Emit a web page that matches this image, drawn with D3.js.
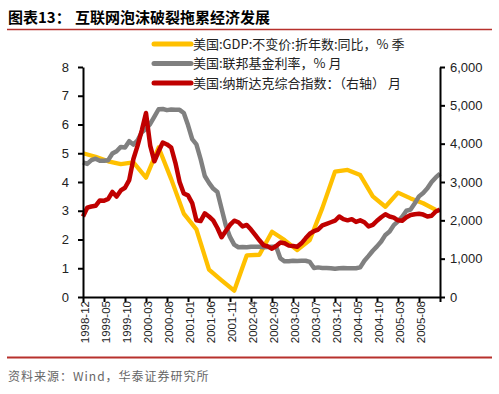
<!DOCTYPE html>
<html><head><meta charset="utf-8">
<script src="https://cdn.jsdelivr.net/npm/d3@7"></script>
<style>
html,body{margin:0;padding:0;background:#fff;}
svg{display:block;font-family:Arial,"Liberation Sans","Noto Sans CJK SC",sans-serif;}
</style></head>
<body><svg id="c" width="499" height="394"></svg>
<script>
// ---- data ----
const startYear = 1998, startMonth = 12, monthCount = 86; // 1998-12 .. 2006-01
const months = [];
for (let i = 0; i < monthCount; i++) {
  const m = (startMonth - 1 + i) % 12 + 1, y = startYear + Math.floor((startMonth - 1 + i) / 12);
  months.push(y + "-" + String(m).padStart(2, "0"));
}
const tickLabels = ["1998-12","1999-05","1999-10","2000-03","2000-08","2001-01","2001-06","2001-11","2002-04","2002-09","2003-02","2003-07","2003-12","2004-05","2004-10","2005-03","2005-08"];

// US real GDP yoy (%) quarterly, placed at month positions
const gdpMonths = ["1998-12","1999-03","1999-06","1999-09","1999-12","2000-03","2000-06","2000-09","2000-12","2001-03","2001-06","2001-09","2001-12","2002-03","2002-06","2002-09","2002-12","2003-03","2003-06","2003-09","2003-12","2004-03","2004-06","2004-09","2004-12","2005-03","2005-06","2005-09","2005-12"];
const gdpValues = [5.0,4.88,4.72,4.62,4.68,4.15,5.2,4.1,2.9,2.35,0.95,0.58,0.22,1.45,1.47,2.27,1.98,1.63,1.98,3.1,4.36,4.42,4.24,3.5,3.14,3.63,3.43,3.26,3.03];

// Fed funds rate (%) monthly
const fedValues = [4.68,4.63,4.76,4.81,4.74,4.74,4.76,4.99,5.07,5.22,5.20,5.42,5.30,
  5.45,5.73,5.85,6.02,6.27,6.53,6.54,6.50,6.52,6.51,6.51,6.40,
  5.98,5.49,5.31,4.80,4.21,3.97,3.77,3.65,3.07,2.49,2.09,1.82,
  1.73,1.74,1.73,1.75,1.75,1.75,1.73,1.74,1.75,1.75,1.34,1.24,
  1.24,1.26,1.25,1.26,1.26,1.22,1.01,1.03,1.01,1.01,1.00,0.98,
  1.00,1.01,1.00,1.00,1.00,1.03,1.26,1.43,1.61,1.76,1.93,2.16,
  2.28,2.50,2.63,2.79,3.00,3.04,3.26,3.50,3.62,3.78,4.00,4.16,4.29];

// NASDAQ composite (right axis) monthly
const nasdaqValues = [2100,2330,2360,2380,2520,2510,2560,2740,2620,2780,2850,3050,3600,
  3950,4350,4800,3950,3540,3800,4030,3980,3900,3500,3000,2700,
  2650,2450,2000,1980,2180,2100,2000,1800,1560,1720,1880,1990,
  1950,1840,1880,1760,1620,1480,1350,1320,1260,1330,1420,1400,
  1340,1330,1310,1400,1530,1650,1720,1760,1870,1910,1950,1990,
  2100,2030,2000,2030,1960,2000,1950,1840,1880,1990,2080,2160,
  2100,2070,2000,1990,2080,2140,2160,2170,2150,2100,2120,2230,2280];

const leftTicks = [0,1,2,3,4,5,6,7,8];
const rightTicks = [0,1000,2000,3000,4000,5000,6000];
const legendLabels = ["美国:GDP:不变价:折年数:同比，% 季","美国:联邦基金利率，% 月","美国:纳斯达克综合指数：（右轴） 月"];
const colors = ["#FFC000","#808080","#C00000"];

// ---- drawing ----
const svg = d3.select("#c");
const L = 83, R = 440, T = 67, B = 297;
const x = d3.scaleLinear().domain([0, monthCount - 1]).range([L, R]);
const yL = d3.scaleLinear().domain([0, 8]).range([B, T]);
const yR = d3.scaleLinear().domain([0, 6000]).range([B, T]);
const idx = m => months.indexOf(m);

// title
svg.append("text").attr("x", 8).attr("y", 23).attr("font-size", 15).attr("font-weight", "bold")
  .attr("fill", "#000").attr("font-family", "'Noto Sans CJK SC',sans-serif").text("图表13：");
svg.append("text").attr("x", 75).attr("y", 23).attr("font-size", 15).attr("font-weight", "bold")
  .attr("fill", "#000").attr("font-family", "'Noto Sans CJK SC',sans-serif").text("互联网泡沫破裂拖累经济发展");
svg.append("line").attr("x1", 7).attr("x2", 492).attr("y1", 29.5).attr("y2", 29.5).attr("stroke", "#B7312C").attr("stroke-width", 1.5);
svg.append("line").attr("x1", 7).attr("x2", 492).attr("y1", 357.5).attr("y2", 357.5).attr("stroke", "#B7312C").attr("stroke-width", 2);
svg.append("text").attr("x", 8).attr("y", 381).attr("font-size", 12).attr("letter-spacing", 1).attr("fill", "#666")
  .attr("font-family", "'Noto Sans CJK SC',sans-serif").text("资料来源：Wind，华泰证券研究所");

// lines
const line = (ys) => d3.line().x(d => x(d[0])).y(d => ys(d[1]));
const gdpPts = gdpMonths.map((m, i) => [idx(m), gdpValues[i]]);
const fedPts = fedValues.map((v, i) => [i, v]);
const nasPts = nasdaqValues.map((v, i) => [i, v]);
svg.append("path").attr("d", line(yL)(gdpPts)).attr("fill", "none").attr("stroke", colors[0]).attr("stroke-width", 4.3).attr("stroke-linejoin", "round");
svg.append("path").attr("d", line(yL)(fedPts)).attr("fill", "none").attr("stroke", colors[1]).attr("stroke-width", 4.5).attr("stroke-linejoin", "round");
svg.append("path").attr("d", line(yR)(nasPts)).attr("fill", "none").attr("stroke", colors[2]).attr("stroke-width", 4.5).attr("stroke-linejoin", "round");

// axes
const axisStyle = g => {
  g.select(".domain").attr("stroke", "#000").attr("stroke-width", 2);
  g.selectAll(".tick line").attr("stroke", "#000").attr("stroke-width", 2);
  g.selectAll("text").attr("fill", "#222").attr("font-family", "Arial,'Liberation Sans',sans-serif");
};
svg.append("g").attr("transform", `translate(${L},0)`)
  .call(d3.axisLeft(yL).tickValues(leftTicks).tickSize(5).tickSizeOuter(0).tickPadding(9))
  .call(axisStyle).selectAll("text").attr("font-size", 13);
svg.append("g").attr("transform", `translate(${R},0)`)
  .call(d3.axisRight(yR).tickValues(rightTicks).tickSize(5).tickSizeOuter(0).tickFormat(d3.format(",")).tickPadding(5))
  .call(axisStyle).selectAll("text").attr("font-size", 13);
const xg = svg.append("g").attr("transform", `translate(0,${B})`)
  .call(d3.axisBottom(x).tickValues(d3.range(0, monthCount, 5)).tickSize(5).tickSizeOuter(0)
    .tickFormat(i => tickLabels.includes(months[i]) ? months[i] : ""))
  .call(axisStyle);
xg.selectAll("text").attr("font-size", 11.5).attr("text-anchor", "end")
  .attr("transform", "rotate(-90)").attr("x", -4).attr("y", 1).attr("dy", "0.35em");

// legend
const lg = svg.append("g");
legendLabels.forEach((t, i) => {
  const yy = 44 + i * 19.5;
  lg.append("line").attr("x1", 154).attr("x2", 191).attr("y1", yy).attr("y2", yy)
    .attr("stroke", colors[i]).attr("stroke-width", 5).attr("stroke-linecap", "round");
  lg.append("text").attr("x", 193).attr("y", yy).attr("dy", "0.35em").attr("font-size", 13)
    .attr("fill", "#222").attr("font-family", "'Noto Sans CJK SC',sans-serif").text(t);
});
</script></body></html>
